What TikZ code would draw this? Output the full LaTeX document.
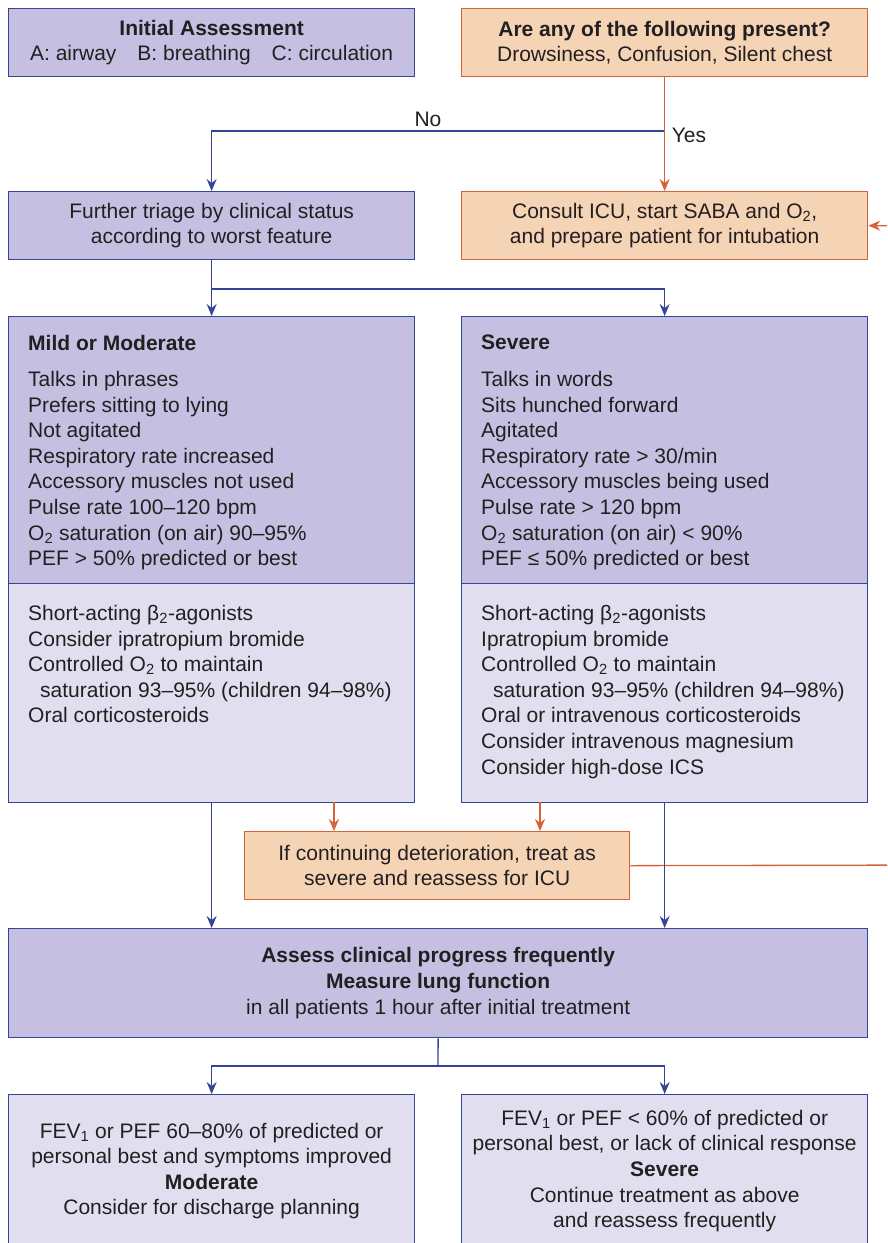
\documentclass[tikz,border=0pt]{standalone}
\usepackage{fontspec}
\setmainfont{Liberation Sans}
\usetikzlibrary{arrows.meta}
\definecolor{boxblue}{RGB}{197,192,225}
\definecolor{boxpale}{RGB}{225,222,240}
\definecolor{boxpeach}{RGB}{245,211,181}
\definecolor{edgeblue}{RGB}{52,68,150}
\definecolor{edgeorange}{RGB}{214,98,56}
\definecolor{inkgrey}{RGB}{35,31,32}

\begin{document}
\begin{tikzpicture}[x=1pt,y=-1pt,
  font=\fontsize{21}{25.6}\selectfont,text=inkgrey,
  bluebox/.style={draw=edgeblue,fill=boxblue,line width=1.3pt,minimum width=406pt,
    anchor=north west,align=center,inner sep=0pt},
  palebox/.style={bluebox,fill=boxpale},
  peachbox/.style={bluebox,draw=edgeorange,fill=boxpeach},
  listtext/.style={anchor=north west,align=left,inner sep=0pt},
  barr/.style={draw=edgeblue,line width=1.3pt,-{Stealth[length=12pt,width=10pt,inset=4pt]}},
  oarr/.style={draw=edgeorange,line width=1.3pt,-{Stealth[length=12pt,width=10pt,inset=4pt]}},
  bline/.style={draw=edgeblue,line width=1.3pt}]
\useasboundingbox (0,0) rectangle (887,1243);
\clip (0,0) rectangle (887,1243);

% top row
\node[bluebox,minimum height=68pt] (init) at (8,8) {\textbf{Initial Assessment}\\A: airway\quad B: breathing\quad C: circulation};
\node[peachbox,minimum height=68pt] (quest) at (461,8) {\textbf{Are any of the following present?}\\Drowsiness, Confusion, Silent chest};

% second row
\node[bluebox,minimum height=68pt] (triage) at (8,191) {Further triage by clinical status\\according to worst feature};
\node[peachbox,minimum height=68pt] (icu) at (461,191) {Consult ICU, start SABA and O\textsubscript{2},\\and prepare patient for intubation};

\coordinate (yesno) at (664,131);
\draw[oarr] (quest.south) -- (icu.north);
\draw[barr] (yesno) -| (triage.north);
\node (no) at (428,119) {No};
\node (yes) at (689,135) {Yes};

% mild / severe
\node[bluebox,minimum height=267pt] (mild) at (8,316) {};
\node[palebox,minimum height=219pt] (mildtx) at (8,583) {};
\node[bluebox,minimum height=267pt] (severe) at (461,316) {};
\node[palebox,minimum height=219pt] (severetx) at (461,583) {};

\node[listtext] (mildhead) at (28,335) {\textbf{Mild or Moderate}};
\node[listtext] (mildsigns) at (28,371) {Talks in phrases\\Prefers sitting to lying\\Not agitated\\Respiratory rate increased\\Accessory muscles not used\\Pulse rate 100–120 bpm\\O\textsubscript{2} saturation (on air) 90–95\%\\PEF > 50\% predicted or best};
\node[listtext] (mildlist) at (28,605) {Short-acting β\textsubscript{2}-agonists\\Consider ipratropium bromide\\Controlled O\textsubscript{2} to maintain\\\hspace*{12pt}saturation 93–95\% (children 94–98\%)\\Oral corticosteroids};

\node[listtext] (severehead) at (481,335) {\textbf{Severe}};
\node[listtext] (severesigns) at (481,371) {Talks in words\\Sits hunched forward\\Agitated\\Respiratory rate > 30/min\\Accessory muscles being used\\Pulse rate > 120 bpm\\O\textsubscript{2} saturation (on air) < 90\%\\PEF ≤ 50\% predicted or best};
\node[listtext] (severelist) at (481,605) {Short-acting β\textsubscript{2}-agonists\\Ipratropium bromide\\Controlled O\textsubscript{2} to maintain\\\hspace*{12pt}saturation 93–95\% (children 94–98\%)\\Oral or intravenous corticosteroids\\Consider intravenous magnesium\\Consider high-dose ICS};

\coordinate (tsplit) at (211,289);
\draw[barr] (triage.south) -- (mild.north -| triage.south);
\draw[barr] (tsplit) -| (severe.north -| icu.south);

% deterioration
\node[peachbox,minimum width=385pt,minimum height=68pt] (worse) at (244,831) {If continuing deterioration, treat as\\severe and reassess for ICU};
\coordinate (mildo) at (334,802);
\coordinate (severeo) at (540,802);
\draw[oarr] (mildo) -- (mildo |- worse.north);
\draw[oarr] (severeo) -- (severeo |- worse.north);
\coordinate (farright) at (930,865);
\draw[oarr] (worse.east) -- (farright) |- (icu.east);

% assess
\node[bluebox,minimum width=859pt,minimum height=109pt] (assess) at (8,928) {\textbf{Assess clinical progress frequently}\\\textbf{Measure lung function}\\in all patients 1 hour after initial treatment};
\draw[barr] (mildtx.south -| triage.south) -- (assess.north -| triage.south);
\draw[barr] (severetx.south -| icu.south) -- (assess.north -| icu.south);

% outcome
\node[palebox,minimum height=153pt] (moderate) at (8,1094) {FEV\textsubscript{1} or PEF 60–80\% of predicted or\\personal best and symptoms improved\\\textbf{Moderate}\\Consider for discharge planning};
\node[palebox,minimum height=153pt] (severeout) at (461,1094) {FEV\textsubscript{1} or PEF < 60\% of predicted or\\personal best, or lack of clinical response\\\textbf{Severe}\\Continue treatment as above\\and reassess frequently};
\coordinate (asplit) at (438,1066);
\draw[bline] (assess.south) -- (asplit);
\draw[barr] (asplit) -| (moderate.north);
\draw[barr] (asplit) -| (severeout.north);
\end{tikzpicture}
\end{document}
